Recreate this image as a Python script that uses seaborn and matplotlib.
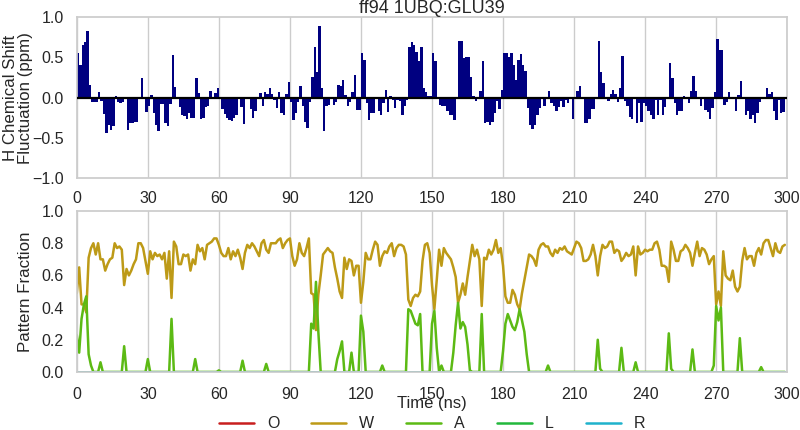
import matplotlib
matplotlib.use("Agg")
import matplotlib.pyplot as plt
import numpy as np
import pandas as pd
import seaborn as sns

# --- data -----------------------------------------------------------------
time_ns = np.arange(300)

h_shift = [
    0.55, 0.40, 0.65, 0.69, 0.83, 0.16, -0.06, -0.06, -0.06, 0.07, -0.04, -0.20, -0.44, -0.34, -0.40, -0.35, 0.02, -0.06, -0.07, -0.05,
    0.01, -0.40, -0.32, -0.32, -0.30, -0.30, 0.01, 0.24, 0.01, -0.18, -0.10, 0.03, -0.19, -0.34, -0.42, -0.08, -0.08, -0.31, -0.35, -0.08,
    0.53, 0.13, -0.01, -0.12, -0.21, -0.23, -0.27, -0.19, -0.25, -0.25, 0.25, 0.06, -0.27, -0.25, -0.12, -0.10, 0.08, 0.00, 0.06, 0.12,
    -0.01, -0.14, -0.20, -0.25, -0.28, -0.29, -0.25, -0.21, -0.02, -0.12, -0.33, 0.01, 0.00, -0.14, -0.25, -0.16, -0.02, 0.06, -0.10, 0.07,
    0.05, 0.12, 0.05, -0.03, -0.13, 0.07, -0.19, -0.21, 0.05, 0.20, -0.06, -0.28, -0.19, -0.05, 0.15, -0.11, -0.30, -0.38, -0.05, 0.26,
    0.63, 0.32, 0.89, 0.12, -0.41, -0.10, -0.09, 0.00, -0.09, -0.05, 0.16, 0.14, 0.22, 0.03, -0.11, -0.05, 0.07, 0.28, -0.15, -0.15,
    0.55, 0.47, -0.07, -0.28, -0.19, -0.19, 0.01, -0.17, -0.21, -0.07, 0.10, -0.18, 0.02, -0.03, -0.13, -0.03, -0.04, -0.21, -0.11, -0.03,
    0.63, 0.69, 0.65, 0.57, 0.45, 0.63, 0.12, 0.07, 0.02, 0.02, 0.55, 0.45, 0.00, -0.09, -0.11, -0.11, -0.17, -0.21, -0.21, -0.28,
    0.01, 0.70, 0.70, 0.49, 0.51, 0.51, 0.26, 0.02, -0.04, -0.02, 0.08, 0.45, -0.32, -0.30, -0.34, -0.30, -0.19, -0.04, -0.14, 0.10,
    0.56, 0.55, 0.50, 0.56, 0.40, 0.22, 0.47, 0.54, 0.41, 0.33, -0.13, -0.34, -0.39, -0.34, -0.21, -0.13, 0.01, -0.11, 0.01, 0.08,
    -0.07, -0.11, -0.17, -0.12, -0.04, -0.12, -0.03, -0.07, -0.02, -0.26, -0.01, 0.08, 0.14, -0.01, -0.31, -0.31, -0.26, -0.14, -0.14, 0.01,
    0.71, 0.32, 0.18, 0.00, -0.04, 0.05, 0.10, 0.04, -0.06, 0.12, 0.52, -0.04, -0.11, -0.24, -0.26, 0.00, -0.32, -0.07, -0.30, -0.07,
    -0.11, -0.17, -0.21, -0.26, -0.03, -0.21, -0.03, -0.21, -0.12, 0.01, 0.43, 0.25, -0.07, -0.21, -0.17, -0.17, 0.02, 0.01, -0.07, 0.08,
    0.27, 0.08, 0.00, -0.10, 0.00, -0.15, -0.18, -0.26, -0.13, 0.07, 0.73, 0.59, 0.59, -0.09, -0.06, 0.07, 0.00, 0.01, -0.17, 0.03,
    0.21, -0.01, -0.21, -0.17, -0.26, -0.21, -0.31, -0.19, -0.06, -0.02, 0.00, 0.12, 0.04, 0.07, -0.17, -0.28, -0.03, -0.19, -0.18, -0.01,
]

frac_O = [0.0] * 300

frac_W = [
    0.49, 0.65, 0.42, 0.42, 0.37, 0.71, 0.77, 0.80, 0.73, 0.80, 0.70, 0.70, 0.63, 0.67, 0.70, 0.71, 0.80, 0.77, 0.78, 0.76,
    0.54, 0.64, 0.60, 0.63, 0.67, 0.70, 0.80, 0.80, 0.77, 0.69, 0.61, 0.75, 0.70, 0.74, 0.72, 0.73, 0.70, 0.74, 0.58, 0.75,
    0.46, 0.81, 0.78, 0.67, 0.67, 0.73, 0.72, 0.73, 0.63, 0.70, 0.67, 0.79, 0.75, 0.77, 0.70, 0.79, 0.80, 0.81, 0.83, 0.83,
    0.79, 0.74, 0.72, 0.72, 0.77, 0.70, 0.75, 0.72, 0.76, 0.71, 0.64, 0.74, 0.79, 0.77, 0.80, 0.78, 0.75, 0.72, 0.80, 0.82,
    0.76, 0.74, 0.80, 0.80, 0.80, 0.82, 0.83, 0.77, 0.80, 0.82, 0.83, 0.72, 0.66, 0.70, 0.80, 0.74, 0.72, 0.77, 0.83, 0.49,
    0.48, 0.26, 0.48, 0.60, 0.73, 0.75, 0.77, 0.75, 0.74, 0.65, 0.58, 0.50, 0.46, 0.71, 0.64, 0.70, 0.69, 0.60, 0.66, 0.66,
    0.43, 0.56, 0.74, 0.70, 0.70, 0.76, 0.81, 0.79, 0.66, 0.72, 0.75, 0.74, 0.78, 0.80, 0.72, 0.77, 0.79, 0.79, 0.78, 0.73,
    0.45, 0.41, 0.46, 0.48, 0.47, 0.50, 0.69, 0.79, 0.80, 0.74, 0.54, 0.39, 0.57, 0.76, 0.66, 0.77, 0.74, 0.72, 0.70, 0.65,
    0.59, 0.43, 0.48, 0.55, 0.48, 0.59, 0.69, 0.79, 0.72, 0.76, 0.70, 0.41, 0.71, 0.70, 0.76, 0.73, 0.76, 0.82, 0.74, 0.77,
    0.66, 0.47, 0.43, 0.43, 0.51, 0.48, 0.42, 0.39, 0.49, 0.57, 0.65, 0.73, 0.72, 0.70, 0.66, 0.76, 0.79, 0.80, 0.78, 0.78,
    0.74, 0.72, 0.76, 0.74, 0.77, 0.76, 0.78, 0.75, 0.74, 0.73, 0.77, 0.81, 0.80, 0.77, 0.69, 0.69, 0.70, 0.73, 0.79, 0.72,
    0.60, 0.72, 0.79, 0.77, 0.78, 0.81, 0.81, 0.74, 0.76, 0.75, 0.69, 0.71, 0.74, 0.72, 0.73, 0.78, 0.60, 0.78, 0.73, 0.74,
    0.76, 0.75, 0.76, 0.76, 0.80, 0.81, 0.76, 0.66, 0.66, 0.65, 0.56, 0.81, 0.76, 0.69, 0.69, 0.75, 0.76, 0.79, 0.77, 0.74,
    0.66, 0.74, 0.81, 0.72, 0.77, 0.76, 0.73, 0.67, 0.70, 0.72, 0.42, 0.50, 0.41, 0.75, 0.60, 0.58, 0.57, 0.63, 0.53, 0.50,
    0.53, 0.69, 0.77, 0.70, 0.72, 0.72, 0.66, 0.74, 0.77, 0.73, 0.80, 0.82, 0.82, 0.77, 0.72, 0.80, 0.75, 0.74, 0.78, 0.79,
]

frac_A = [
    0.23, 0.12, 0.33, 0.42, 0.47, 0.11, 0.04, 0, 0, 0, 0.06, 0, 0, 0, 0, 0, 0, 0, 0, 0,
    0.16, 0, 0, 0, 0, 0, 0, 0, 0, 0, 0.08, 0, 0, 0, 0, 0, 0, 0, 0, 0,
    0.33, 0, 0, 0, 0, 0, 0, 0, 0, 0, 0.08, 0, 0, 0, 0, 0, 0, 0, 0, 0,
    0.01, 0, 0, 0, 0, 0, 0, 0, 0, 0, 0.07, 0, 0, 0, 0, 0, 0, 0, 0, 0,
    0.05, 0, 0, 0, 0, 0, 0, 0, 0, 0, 0, 0, 0, 0, 0, 0, 0, 0, 0, 0.30,
    0.27, 0.56, 0.25, 0, 0, 0, 0, 0, 0, 0, 0.08, 0.13, 0.19, 0, 0, 0, 0.12, 0, 0, 0,
    0.35, 0.25, 0, 0, 0, 0, 0, 0, 0, 0.04, 0, 0, 0, 0, 0, 0, 0, 0, 0, 0,
    0.39, 0.38, 0.34, 0.30, 0.29, 0.36, 0, 0, 0, 0, 0.30, 0.38, 0.15, 0, 0.04, 0, 0, 0, 0, 0.12,
    0.29, 0.43, 0.27, 0.31, 0.28, 0.17, 0.01, 0, 0, 0, 0, 0.36, 0, 0, 0, 0, 0, 0, 0, 0,
    0.13, 0.30, 0.36, 0.32, 0.28, 0.26, 0.31, 0.39, 0.32, 0.25, 0.11, 0, 0, 0, 0, 0, 0, 0, 0, 0.04,
    0, 0, 0, 0, 0, 0, 0, 0, 0, 0, 0, 0, 0, 0, 0, 0, 0, 0, 0, 0,
    0.20, 0.02, 0, 0, 0, 0, 0, 0, 0, 0, 0.15, 0, 0, 0, 0, 0, 0.06, 0, 0, 0,
    0, 0, 0, 0, 0, 0, 0, 0, 0, 0, 0.24, 0.02, 0, 0, 0, 0, 0, 0, 0, 0,
    0.14, 0, 0, 0, 0, 0, 0, 0, 0, 0.04, 0.41, 0.32, 0.40, 0, 0, 0, 0, 0, 0, 0,
    0.21, 0, 0, 0, 0, 0, 0, 0, 0, 0.03, 0, 0, 0, 0, 0, 0, 0, 0, 0, 0,
]

frac_L = [0.0] * 300
frac_R = [0.0] * 300

patterns = ["O", "W", "A", "L", "R"]
pattern_colors = ["#c81e1e", "#bd9a17", "#5cba14", "#22b83c", "#1fb2cc"]

x_ticks = np.arange(0, 301, 30)


def main() -> None:
    sns.set_theme(style="whitegrid", context="notebook", font_scale=1.05)
    plt.rcParams["font.family"] = ["Liberation Sans", "DejaVu Sans"]

    fig, (ax1, ax2) = plt.subplots(2, 1, figsize=(8, 4.3), dpi=100)
    fig.subplots_adjust(left=0.096, right=0.984, top=0.96, bottom=0.135, hspace=0.205)

    # --- top: chemical shift fluctuation bars ------------------------------
    sns.barplot(
        x=time_ns + 0.5, y=h_shift, native_scale=True, width=1,
        color="#000080", saturation=1, linewidth=0, errorbar=None, ax=ax1,
    )
    ax1.axhline(0, color="black", lw=1.6, zorder=3)
    ax1.set_xlim(0, 300)
    ax1.set_ylim(-1, 1)
    ax1.set_xticks(x_ticks)
    ax1.set_xticklabels([str(t) for t in x_ticks])
    ax1.set_yticks([-1.0, -0.5, 0.0, 0.5, 1.0])
    ax1.set_yticklabels(["\u22121.0", "\u22120.5", "0.0", "0.5", "1.0"])
    ax1.tick_params(labelsize=11.5)
    ax1.set_xlabel("")
    ax1.set_ylabel("H Chemical Shift\nFluctuation (ppm)", fontsize=12.2, linespacing=1.0)
    ax1.yaxis.set_label_coords(-0.062, 0.5)
    ax1.set_title("ff94 1UBQ:GLU39", fontsize=13, pad=3)
    ax1.yaxis.grid(False)

    # --- bottom: pattern fractions -------------------------------------------
    df = pd.DataFrame({
        "Time (ns)": np.tile(time_ns, len(patterns)),
        "fraction": np.concatenate([frac_O, frac_W, frac_A, frac_L, frac_R]),
        "pattern": np.repeat(patterns, len(time_ns)),
    })
    sns.lineplot(
        data=df, x="Time (ns)", y="fraction", hue="pattern",
        hue_order=patterns, palette=pattern_colors, lw=1.8,
        estimator=None, ax=ax2,
    )
    ax2.set_xlim(0, 300)
    ax2.set_ylim(0, 1)
    ax2.set_xticks(x_ticks)
    ax2.set_yticks(np.arange(0, 1.01, 0.2))
    ax2.set_yticklabels([f"{v:.1f}" for v in np.arange(0, 1.01, 0.2)])
    ax2.tick_params(labelsize=11.5)
    ax2.tick_params(axis="x", pad=5)
    ax2.set_ylabel("Pattern Fraction", fontsize=12.2)
    ax2.yaxis.set_label_coords(-0.062, 0.5)
    ax2.set_xlabel("Time (ns)", fontsize=12)
    ax2.xaxis.set_label_coords(0.5, -0.152)
    ax2.yaxis.grid(False)

    sns.move_legend(
        ax2, "center", bbox_to_anchor=(0.5, -0.322), ncol=5,
        frameon=False, title=None, fontsize=11.5, handlelength=2.2,
        borderpad=0.05,
    )

    fig.savefig("out.png", dpi=100)


if __name__ == "__main__":
    main()
